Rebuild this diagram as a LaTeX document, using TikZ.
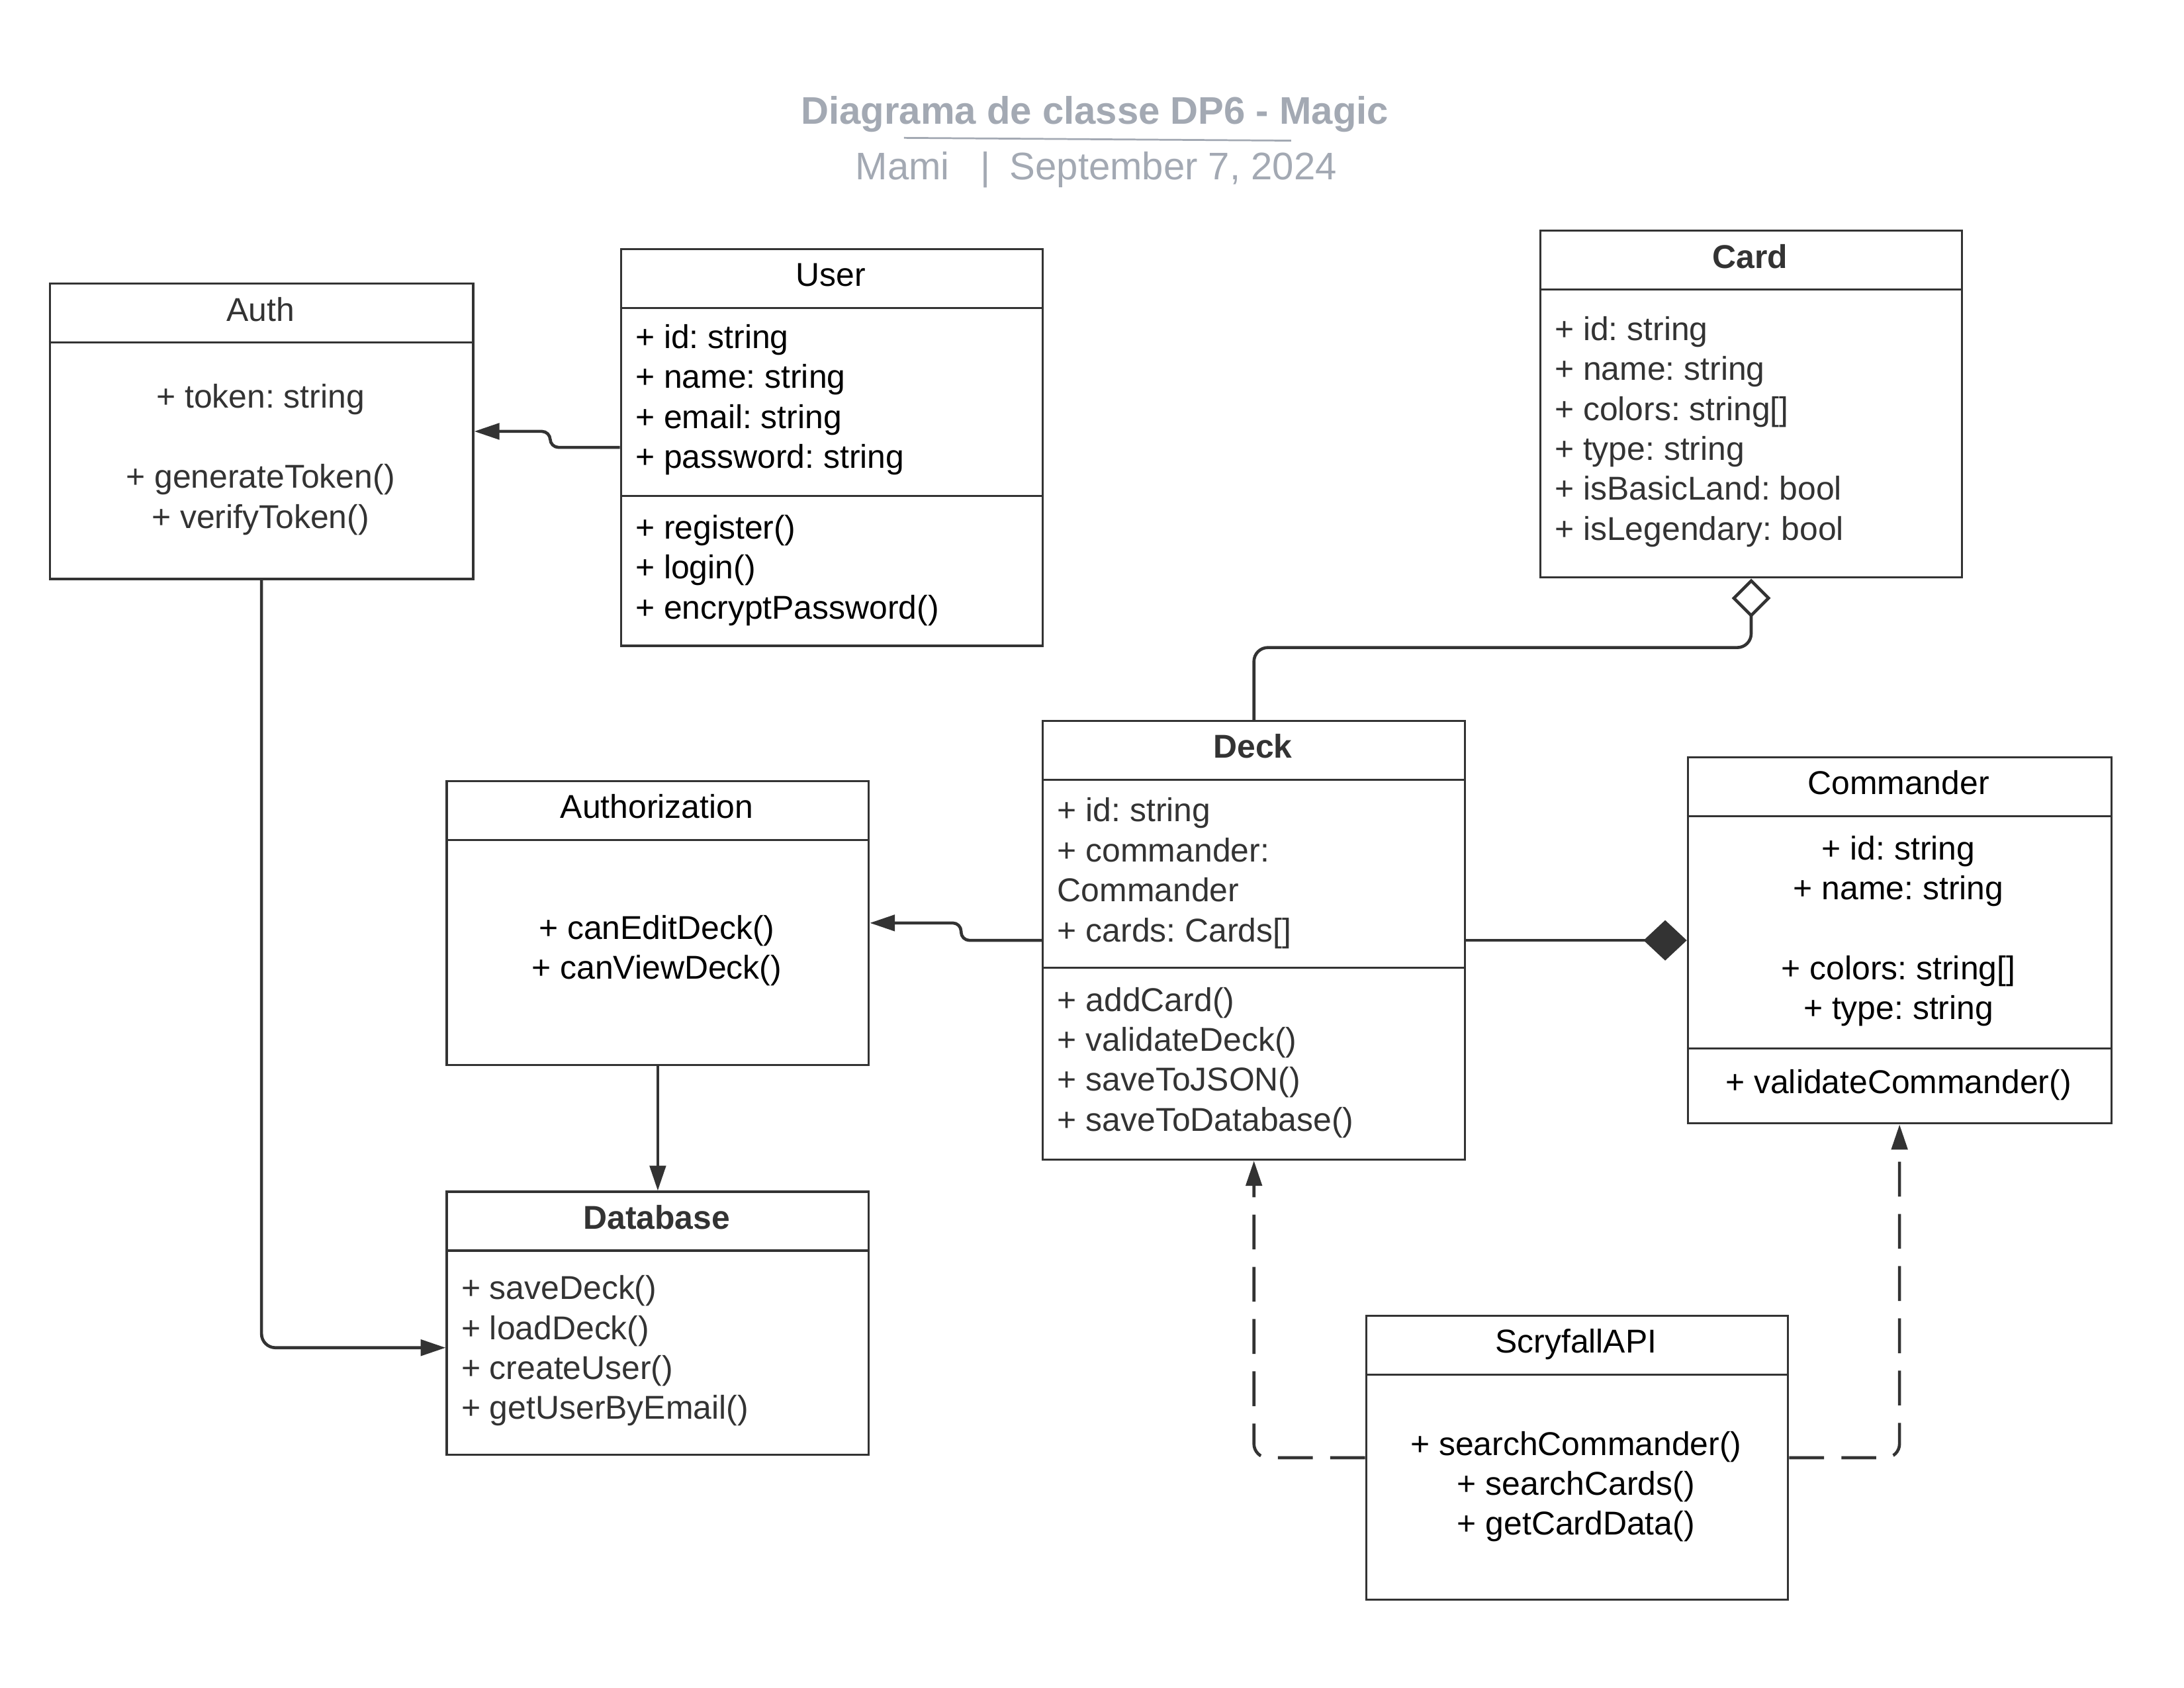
\documentclass[tikz,border=0pt]{standalone}
\usepackage{fontspec}
\setmainfont{Liberation Sans}
\usetikzlibrary{arrows.meta}
\definecolor{linegray}{HTML}{333333}
\definecolor{titlegray}{HTML}{A3A9B3}
\newcommand{\bodyfont}{\fontsize{23.7pt}{28.7pt}\selectfont}
\newcommand{\titlefont}{\fontsize{27.6pt}{33pt}\selectfont}
\frenchspacing

\begin{document}
\begin{tikzpicture}[x=1pt,y=-1pt,
    classbox/.style={draw=linegray,line width=1.5pt,anchor=north west,inner sep=0pt},
    sep/.style={draw=linegray,line width=1.5pt},
    hdr/.style={font=\bodyfont,text height=17pt,text depth=5pt,inner sep=0pt},
    body/.style={font=\bodyfont,inner sep=0pt},
    conn/.style={draw=linegray,line width=2.2pt,rounded corners=6pt,-{Triangle[length=18pt,width=11.5pt]}},
    dep/.style={conn,rounded corners=10pt,dash pattern=on 25pt off 12.5pt},
    aggr/.style={conn,rounded corners=10pt,-{Diamond[open,length=28pt,width=28pt]}},
    comp/.style={conn,-{Diamond[length=31pt,width=29pt]}}]
    \useasboundingbox (0,0) rectangle (1568,1212);

    % title
    \node[font=\titlefont\bfseries,text=titlegray] (title) at (786,82) {Diagrama de classe DP6 - Magic};
    \draw[titlegray,line width=1.3pt] (649,99) -- (927,101);
    \node[font=\titlefont,text=titlegray] (subtitle) at (787,122) {Mami\hspace{22pt}|\hspace{14pt}September 7, 2024};

    % Auth
    \node[classbox,minimum width=304pt,minimum height=212pt] (auth) at (35,203) {};
    \draw[sep] (auth.west |- 0,246) -- (auth.east |- 0,246);
    \node[hdr,text=linegray] (authT) at (187,224.5) {Auth};
    \node[body,align=center,text=linegray] (authB) at (187,330) {+ token: string\\[28.7pt]+ generateToken()\\+ verifyToken()};

    % User
    \node[classbox,minimum width=303pt,minimum height=285pt] (user) at (445,178) {};
    \draw[sep] (user.west |- 0,221) -- (user.east |- 0,221);
    \draw[sep] (user.west |- 0,356) -- (user.east |- 0,356);
    \node[hdr] (userT) at (596.5,199.5) {User};
    \node[body,align=left,anchor=west] (userA) at (456,287) {+ id: string\\+ name: string\\+ email: string\\+ password: string};
    \node[body,align=left,anchor=west] (userM) at (456,409.5) {+ register()\\+ login()\\+ encryptPassword()};

    % Card
    \node[classbox,minimum width=303pt,minimum height=249pt] (card) at (1105,165) {};
    \draw[sep] (card.west |- 0,208) -- (card.east |- 0,208);
    \node[hdr,text=linegray,font=\bodyfont\bfseries] (cardT) at (1256.5,186.5) {Card};
    \node[body,align=left,anchor=west,text=linegray] (cardA) at (1116,310) {+ id: string\\+ name: string\\+ colors: string[]\\+ type: string\\+ isBasicLand: bool\\+ isLegendary: bool};

    % Deck
    \node[classbox,minimum width=303pt,minimum height=315pt] (deck) at (748,517) {};
    \draw[sep] (deck.west |- 0,560) -- (deck.east |- 0,560);
    \draw[sep] (deck.west |- 0,695) -- (deck.east |- 0,695);
    \node[hdr,text=linegray,font=\bodyfont\bfseries] (deckT) at (899.5,538.5) {Deck};
    \node[body,align=left,anchor=west,text=linegray] (deckA) at (759,627) {+ id: string\\+ commander:\\Commander\\+ cards: Cards[]};
    \node[body,align=left,anchor=west,text=linegray] (deckM) at (759,763) {+ addCard()\\+ validateDeck()\\+ saveToJSON()\\+ saveToDatabase()};

    % Authorization
    \node[classbox,minimum width=303pt,minimum height=204pt] (authz) at (320,560) {};
    \draw[sep] (authz.west |- 0,603) -- (authz.east |- 0,603);
    \node[hdr] (authzT) at (471.5,581.5) {Authorization};
    \node[body,align=center] (authzB) at (471.5,682.5) {+ canEditDeck()\\+ canViewDeck()};

    % Commander
    \node[classbox,minimum width=304pt,minimum height=263pt] (cmd) at (1211,543) {};
    \draw[sep] (cmd.west |- 0,586) -- (cmd.east |- 0,586);
    \draw[sep] (cmd.west |- 0,753) -- (cmd.east |- 0,753);
    \node[hdr] (cmdT) at (1363,564.5) {Commander};
    \node[body,align=center] (cmdA) at (1363,668.5) {+ id: string\\+ name: string\\[28.7pt]+ colors: string[]\\+ type: string};
    \node[body,align=center] (cmdM) at (1363,779) {+ validateCommander()};

    % Database
    \node[classbox,minimum width=303pt,minimum height=189pt] (db) at (320,855) {};
    \draw[sep] (db.west |- 0,898) -- (db.east |- 0,898);
    \node[hdr,text=linegray,font=\bodyfont\bfseries] (dbT) at (471.5,876.5) {Database};
    \node[body,align=left,anchor=west,text=linegray] (dbB) at (331,970) {+ saveDeck()\\+ loadDeck()\\+ createUser()\\+ getUserByEmail()};

    % ScryfallAPI
    \node[classbox,minimum width=303pt,minimum height=204pt] (scry) at (980,944) {};
    \draw[sep] (scry.west |- 0,987) -- (scry.east |- 0,987);
    \node[hdr] (scryT) at (1131.5,965.5) {ScryfallAPI};
    \node[body,align=center] (scryB) at (1131.5,1067.5) {+ searchCommander()\\+ searchCards()\\+ getCardData()};

    % connectors
    \draw[conn] (user.west) -- ++(-50,0) |- (auth.east);
    \draw[conn,rounded corners=10pt] (auth.south) |- ([yshift=-17.5pt]db.west);
    \draw[conn] (authz.south) -- (db.north);
    \draw[conn] (deck.west) -- ++(-58,0) |- (authz.east);
    \draw[aggr] (deck.north) -- ++(0,-52) -| (card.south);
    \draw[comp] (deck.east) -- (cmd.west);
    \draw[dep] (scry.west) -| (deck.south);
    \draw[dep] (scry.east) -| (cmd.south);
\end{tikzpicture}
\end{document}
